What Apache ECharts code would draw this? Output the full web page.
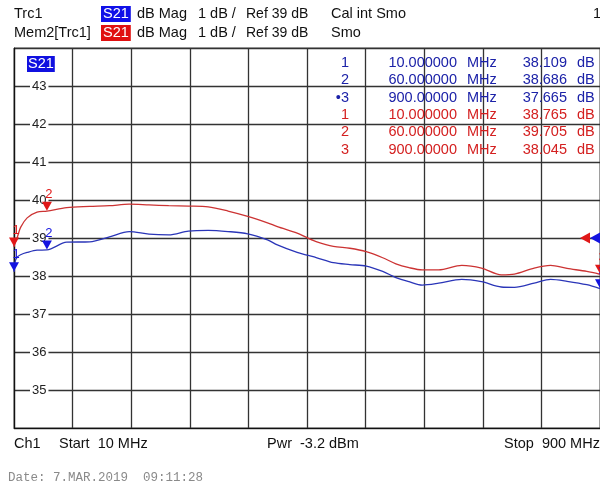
<!DOCTYPE html>
<html>
<head>
<meta charset="utf-8">
<script src="https://cdn.jsdelivr.net/npm/echarts@6/dist/echarts.min.js"></script>
<style>
  html, body { margin: 0; padding: 0; background: #fff; }
  #chart { width: 600px; height: 486px; }
</style>
</head>
<body>
<div id="chart"></div>
<script>
// sweep points (MHz)
const freqs = [10, 12, 15, 20, 30, 45, 60, 90, 125, 155, 185, 215, 245, 275, 305, 335, 365, 395, 410,
  440, 455, 470, 495, 520, 545, 570, 590, 610, 630, 655, 690, 720, 750, 770, 800, 825, 850, 880, 900]
// Trc1 (blue) and Mem2[Trc1] (red), dB
const trcVals = [38.109, 38.40, 38.50, 38.56, 38.62, 38.68, 38.686, 38.89, 38.90, 39.03, 39.17, 39.10, 39.08,
  39.18, 39.20, 39.17, 39.11, 38.95, 38.82, 38.62, 38.55, 38.48, 38.35, 38.30, 38.26, 38.12, 37.96, 37.85,
  37.76, 37.81, 37.91, 37.85, 37.71, 37.70, 37.81, 37.91, 37.86, 37.77, 37.665]
const memVals = [38.765, 38.90, 39.02, 39.28, 39.53, 39.68, 39.705, 39.80, 39.83, 39.85, 39.89, 39.87, 39.85,
  39.84, 39.82, 39.71, 39.57, 39.40, 39.30, 39.13, 39.01, 38.90, 38.78, 38.73, 38.64, 38.48, 38.32, 38.22,
  38.16, 38.16, 38.28, 38.21, 38.03, 38.05, 38.21, 38.28, 38.20, 38.12, 38.045]

// markers
const markerNames = ['1', '2', '3']
const markerFreqs = [10, 60, 900]
const trcMarkerVals = [38.109, 38.686, 37.665]
const memMarkerVals = [38.765, 39.705, 38.045]

const refLevel = 39
const yTicks = [34, 35, 36, 37, 38, 39, 40, 41, 42, 43, 44]

const BLUE = '#2a35b8'
const RED = '#cc3333'
const TXT_BLUE = '#1c22a8'
const TXT_RED = '#d42020'
const FONT = '14.5px "Liberation Sans", Arial, sans-serif'

const chart = echarts.init(document.getElementById('chart'))

function markerPoints(vals, color) {
  const pts = markerNames.map((n, i) => ({
    name: n,
    coord: [markerFreqs[i], vals[i]],
    symbol: 'triangle',
    symbolRotate: 180,
    symbolSize: [10, 9],
    symbolOffset: [0, -5],
    itemStyle: { color: color },
    label: {
      show: true, position: 'top', distance: 1, offset: [2, 0],
      formatter: n, color: color, fontSize: 13, fontFamily: 'Liberation Sans'
    }
  }))
  return pts
}

function tableRows() {
  const items = []
  const rowY0 = 63, rowStep = 17.3
  const groups = [[trcMarkerVals, TXT_BLUE, true], [memMarkerVals, TXT_RED, false]]
  let r = 0
  groups.forEach(([vals, col, active]) => {
    markerNames.forEach((n, i) => {
      const y = rowY0 + r * rowStep
      const label = (active && i === 2) ? '\u2022' + n : n
      const cells = [
        [label, 349, 'right'],
        [markerFreqs[i].toPrecision(8), 457, 'right'],
        ['MHz', 467, 'left'],
        [vals[i].toFixed(3), 567, 'right'],
        ['dB', 577, 'left']
      ]
      cells.forEach(([t, x, al]) => {
        items.push({ type: 'text', x: x, y: y, z: 100,
          style: { text: t, fill: col, font: FONT, align: al, verticalAlign: 'middle' } })
      })
      r++
    })
  })
  return items
}

function txt(t, x, y, extra) {
  return { type: 'text', x: x, y: y, z: 100,
    style: Object.assign({ text: t, fill: '#111', font: FONT, verticalAlign: 'middle' }, extra || {}) }
}

const header = [
  txt('Trc1', 14, 14),
  txt('S21', 101, 14, { fill: '#fff', backgroundColor: '#1010e8', padding: [1, 2, 0, 2] }),
  txt('dB Mag', 137, 14), txt('1 dB /', 198, 14), txt('Ref 39 dB', 246, 14, { font: '14px "Liberation Sans", Arial' }),
  txt('Cal int Smo', 331, 14), txt('1', 593, 14),
  txt('Mem2[Trc1]', 14, 33),
  txt('S21', 101, 33, { fill: '#fff', backgroundColor: '#e01010', padding: [1, 2, 0, 2] }),
  txt('dB Mag', 137, 33), txt('1 dB /', 198, 33), txt('Ref 39 dB', 246, 33, { font: '14px "Liberation Sans", Arial' }),
  txt('Smo', 331, 33),
  txt('S21', 27, 64, { fill: '#fff', backgroundColor: '#1010e0', padding: [1, 1, 0, 1] }),
  txt('Ch1', 14, 444), txt('Start  10 MHz', 59, 444),
  txt('Pwr  -3.2 dBm', 267, 444), txt('Stop  900 MHz', 504, 444),
  txt('Date: 7.MAR.2019  09:11:28', 8, 478,
    { fill: '#8a8a8a', font: '12.5px "Liberation Mono", "DejaVu Sans Mono", monospace' })
]

const option = {
  backgroundColor: '#fff',
  animation: false,
  grid: { left: 14, top: 48, width: 588, height: 380, show: true, borderColor: '#666', borderWidth: 1 },
  xAxis: [
    { type: 'value', min: 10, max: 900, show: false },
    { type: 'value', min: 0, max: 10, interval: 1, position: 'bottom',
      axisLine: { show: true, lineStyle: { color: '#111', width: 1 } },
      axisTick: { show: false }, axisLabel: { show: false },
      splitLine: { show: true, lineStyle: { color: '#333', width: 1.3 } } }
  ],
  yAxis: {
    type: 'value', min: yTicks[0], max: yTicks[yTicks.length - 1], interval: 1,
    axisLine: { show: true, lineStyle: { color: '#111', width: 1.2 } },
    axisTick: { show: false },
    splitLine: { show: true, lineStyle: { color: '#333', width: 1.3 } },
    axisLabel: {
      inside: true, margin: 16, showMinLabel: false, showMaxLabel: false,
      color: '#222', fontSize: 13, fontFamily: 'Liberation Sans',
      backgroundColor: '#fff', padding: [0, 2, 0, 2]
    }
  },
  series: [
    {
      name: 'Mem2[Trc1]', type: 'line', xAxisIndex: 0, showSymbol: false, smooth: 0.3,
      data: freqs.map((f, i) => [f, memVals[i]]),
      lineStyle: { color: RED, width: 1.3 }, itemStyle: { color: RED },
      markPoint: {
        data: markerPoints(memMarkerVals, '#e01818').concat([{
          coord: [900, refLevel], symbol: 'triangle', symbolRotate: 90, symbolSize: [11, 10],
          symbolOffset: [-15, 0], itemStyle: { color: '#e01818' }, label: { show: false }
        }])
      }
    },
    {
      name: 'Trc1', type: 'line', xAxisIndex: 0, showSymbol: false, smooth: 0.3,
      data: freqs.map((f, i) => [f, trcVals[i]]),
      lineStyle: { color: BLUE, width: 1.3 }, itemStyle: { color: BLUE },
      markPoint: {
        data: markerPoints(trcMarkerVals, '#1414e0').concat([{
          coord: [900, refLevel], symbol: 'triangle', symbolRotate: 90, symbolSize: [11, 10],
          symbolOffset: [-5, 0], itemStyle: { color: '#1414e0' }, label: { show: false }
        }])
      }
    }
  ],
  graphic: header.concat(tableRows())
}

chart.setOption(option)
window.addEventListener('resize', () => {
  chart.resize()
})
</script>
</body>
</html>
